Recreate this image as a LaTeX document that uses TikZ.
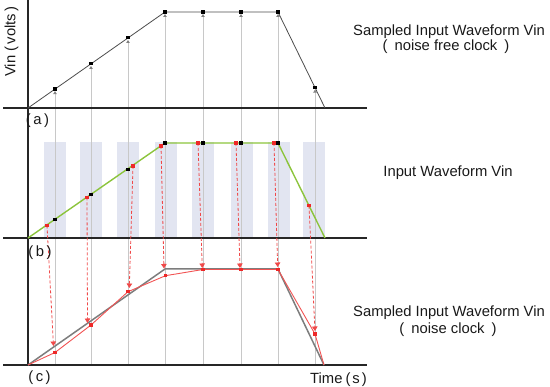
\documentclass[tikz,border=0pt]{standalone}
\usepackage{fontspec}
\setmainfont{Liberation Sans}
\usetikzlibrary{arrows.meta}
\definecolor{barblue}{RGB}{226,229,241}
\definecolor{wavegreen}{RGB}{140,196,60}
\definecolor{noisered}{RGB}{238,40,40}
\definecolor{gridgray}{RGB}{200,200,200}
\definecolor{wavegray}{RGB}{125,125,125}
\newcommand{\inpar}[2][2.5pt]{(\hspace{#1}#2\hspace{#1})}
\begin{document}
\begin{tikzpicture}[x=1pt, y=-1pt,
		axis/.style={black!85, line width=1.4pt},
		sampleline/.style={gridgray, line width=0.9pt, -{Triangle[length=3pt, width=3.4pt, fill=gray!70, color=gray]}},
		noiseline/.style={noisered!85, line width=0.8pt, dash pattern=on 3pt off 2pt, -{Triangle[length=4.5pt, width=5.5pt]}},
		lbl/.style={inner sep=0pt, text=black!90, font=\fontsize{14.8}{16}\selectfont}]
	\useasboundingbox (0,0) rectangle (550,387);

	\foreach \x in {55,91,128,166,203,242,279,314}
		\fill[barblue]	(\x-11,142) rectangle (\x+11,237);

	\foreach \x/\y in {55/89.1, 91/63.9, 128/37.9, 165/12, 203/12, 241/12, 278/12, 315/87.6}
		\draw[sampleline]	(\x,365) -- (\x,\y+2);

	\draw[axis]	(28,0) -- (28,365);
	\draw[axis]	(3,108) -- (367,108);
	\draw[axis]	(3,238) -- (367,238);
	\draw[axis]	(3,365) -- (367,365);

	\draw[black!70, line width=0.8pt]	(28,108) -- (165,12) -- (278,12) -- (325,108);
	\foreach \x/\y in {55/89.1, 91/63.9, 128/37.9, 165/12, 203/12, 241/12, 278/12, 315/87.6}
		\fill[black]	(\x-1.6,\y-1.6) rectangle ++(3.2,3.2);

	\draw[wavegreen, line width=1.4pt]	(28,238) -- (165,143) -- (278,143) -- (325,238);
	\foreach \x/\y in {55/219.3, 91/194.8, 128/169.5, 165/143, 203/143, 241/143, 278/143}
		\fill[black]	(\x-1.6,\y-1.6) rectangle ++(3.2,3.2);

	\draw[wavegray, line width=1.5pt]	(28,365) -- (165,269) -- (278,269) -- (324,365);
	\draw[noisered!80, line width=0.9pt]	(28,365) -- (55,352.5) -- (91,325) -- (128,291.7) -- (165.5,275.7)
		-- (203,269.5) -- (241,269.5) -- (278,269.5) -- (315,334) -- (324,365);
	\foreach \x/\y in {55/352.5, 91/325, 128/291.7, 165.5/275.7, 203/269.5, 241/269.5, 278/269.5, 315/334}
		\fill[noisered]	(\x-1.7,\y-1.7) rectangle ++(3.4,3.4);

	\foreach \i/\rx/\ry/\tx/\ty in {1/47/225.5/53.5/346, 2/87/197.5/87.5/323, 3/133/166/129.3/288, 4/161/146/164/268.5,
			5/198/143/202.3/268, 6/236/143/240/268, 7/274/143/277.7/267, 8/309/205.7/315/331} {
		\coordinate (r\i) at (\rx,\ry);
		\coordinate (t\i) at (\tx,\ty);
		\draw[noiseline]	(r\i) -- (t\i);
		\fill[noisered]	(\rx-1.7,\ry-1.7) rectangle ++(3.4,3.4);
	}

	\node[lbl, rotate=90, anchor=base west] (vinlbl) at (15.5,77) {Vin\hspace{4pt}\inpar{volts}};
	\node[lbl, anchor=base] (taga) at (37.5,125) {\inpar{a}};
	\node[lbl, anchor=base] (tagb) at (40,256.5) {\inpar{b}};
	\node[lbl, anchor=base] (tagc) at (39.5,381.5) {\inpar{c}};

	\node[lbl, anchor=base] (titlea) at (449,36) {Sampled Input Waveform Vin};
	\node[lbl, anchor=base] (notea) at (446,51) {\inpar[7pt]{noise free clock}};
	\node[lbl, anchor=base] (titleb) at (448,176.7) {Input Waveform Vin};
	\node[lbl, anchor=base] (titlec) at (449,316.7) {Sampled Input Waveform Vin};
	\node[lbl, anchor=base] (notec) at (448,333.5) {\inpar[7pt]{noise clock}};
	\node[lbl, anchor=base west] (timelbl) at (310,383.3) {Time\hspace{3pt}\inpar[2pt]{s}};
\end{tikzpicture}
\end{document}
